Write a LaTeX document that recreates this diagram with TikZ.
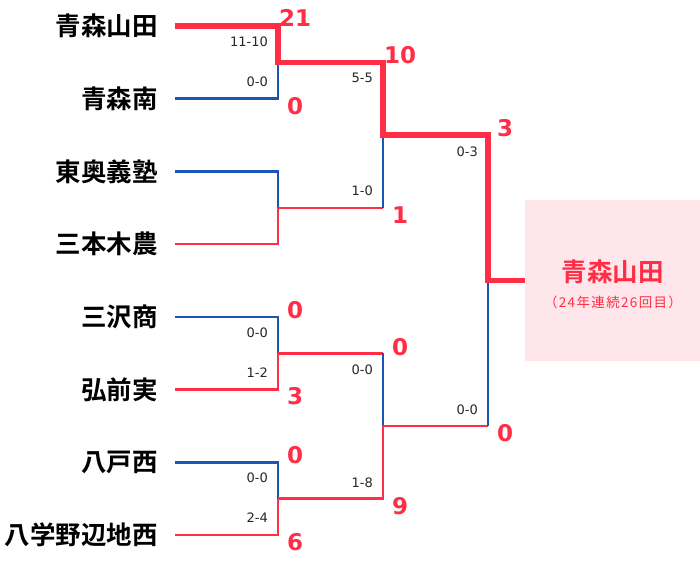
\documentclass[tikz,border=0pt]{standalone}
\usepackage{fontspec}
\setmainfont{DejaVu Sans}
\newfontfamily\jp{Noto Sans CJK JP}[BoldFont={Noto Sans CJK JP Bold}]
\usetikzlibrary{positioning}
\definecolor{winred}{HTML}{FF2D46}
\definecolor{loseblue}{HTML}{1B55B5}
\definecolor{champpink}{HTML}{FFE6EA}

\begin{document}
\begin{tikzpicture}[x=1pt,y=-1pt,
  team/.style = {anchor=east, inner xsep=17pt, inner ysep=0pt, font=\jp\bfseries\fontsize{25.5}{25.5}\selectfont},
  pts/.style = {inner sep=0pt, text=winred, font=\bfseries\fontsize{23}{23}\selectfont},
  game/.style = {anchor=east, inner sep=0pt, text=black!85, font=\fontsize{13}{13}\selectfont},
  winline/.style = {draw=winred, line width=2.6pt},
  loseline/.style = {draw=loseblue, line width=2.6pt},
  champline/.style = {draw=winred, line width=5.5pt},
  champbox/.style = {fill=champpink, inner sep=0pt, minimum width=175pt, minimum height=161pt}]
\useasboundingbox (0,0) rectangle (700,560);
% teams
\node[team] (t1) at (175,26) {青森山田};
\node[team] (t2) at (175,98.7) {青森南};
\node[team] (t3) at (175,171.4) {東奥義塾};
\node[team] (t4) at (175,244.1) {三本木農};
\node[team] (t5) at (175,316.8) {三沢商};
\node[team] (t6) at (175,389.5) {弘前実};
\node[team] (t7) at (175,462.2) {八戸西};
\node[team] (t8) at (175,534.9) {八学野辺地西};
% junctions
\coordinate (m1) at (278,62.3);
\coordinate (m2) at (278,207.8);
\coordinate (m3) at (278,353.2);
\coordinate (m4) at (278,498.5);
\coordinate (m5) at (383,135.1);
\coordinate (m6) at (383,425.9);
\coordinate (f) at (488,280.5);
% champion
\node[champbox] (champ) at (612.5,280.5) {};
\node[text=winred, font=\jp\bfseries\fontsize{25.5}{25.5}\selectfont] (champname) at (612.5,272) {青森山田};
\node[text=winred, font=\jp\fontsize{13.5}{13.5}\selectfont\addfontfeature{LetterSpace=10}] (champnote) at (613,302) {（24年連続26回目）};
% first round
\draw[loseline] (t2.east) -| (m1);
\draw[loseline] (t3.east) -| (m2);
\draw[winline] (t4.east) -| (m2);
\draw[loseline] (t5.east) -| (m3);
\draw[winline] (t6.east) -| (m3);
\draw[loseline] (t7.east) -| (m4);
\draw[winline] (t8.east) -| (m4);
% second round
\draw[winline] (m2) -- (m2 -| m5);
\draw[loseline] (m2 -| m5) -- (m5);
\draw[winline] (m3) -- (m3 -| m6);
\draw[loseline] (m3 -| m6) -- (m6);
\draw[winline] (m4) -| (m6);
% third round
\draw[winline] (m6) -- (m6 -| f);
\draw[loseline] (m6 -| f) -- (f);
\draw[champline] (t1.east) -| (m1) -| (m5) -| (f) -- (champ.west);
% runs
\node[pts] (p1) at (295,18) {21};
\node[pts] (p2) at (295,106) {0};
\node[pts] (p5) at (295,310) {0};
\node[pts] (p6) at (295,396) {3};
\node[pts] (p7) at (295,455) {0};
\node[pts] (p8) at (295,542) {6};
\node[pts] (q1) at (400,55) {10};
\node[pts] (q2) at (400,215) {1};
\node[pts] (q3) at (400,347) {0};
\node[pts] (q4) at (400,506) {9};
\node[pts] (r1) at (505,128) {3};
\node[pts] (r2) at (505,433) {0};
% hits
\node[game] (g1) at (268,42) {11-10};
\node[game] (g2) at (268,82) {0-0};
\node[game] (g5) at (268,333) {0-0};
\node[game] (g6) at (268,373) {1-2};
\node[game] (g7) at (268,478) {0-0};
\node[game] (g8) at (268,518) {2-4};
\node[game] (h1) at (373,78) {5-5};
\node[game] (h2) at (373,191) {1-0};
\node[game] (h3) at (373,370) {0-0};
\node[game] (h4) at (373,483) {1-8};
\node[game] (k1) at (478,152) {0-3};
\node[game] (k2) at (478,410) {0-0};
\end{tikzpicture}
\end{document}
